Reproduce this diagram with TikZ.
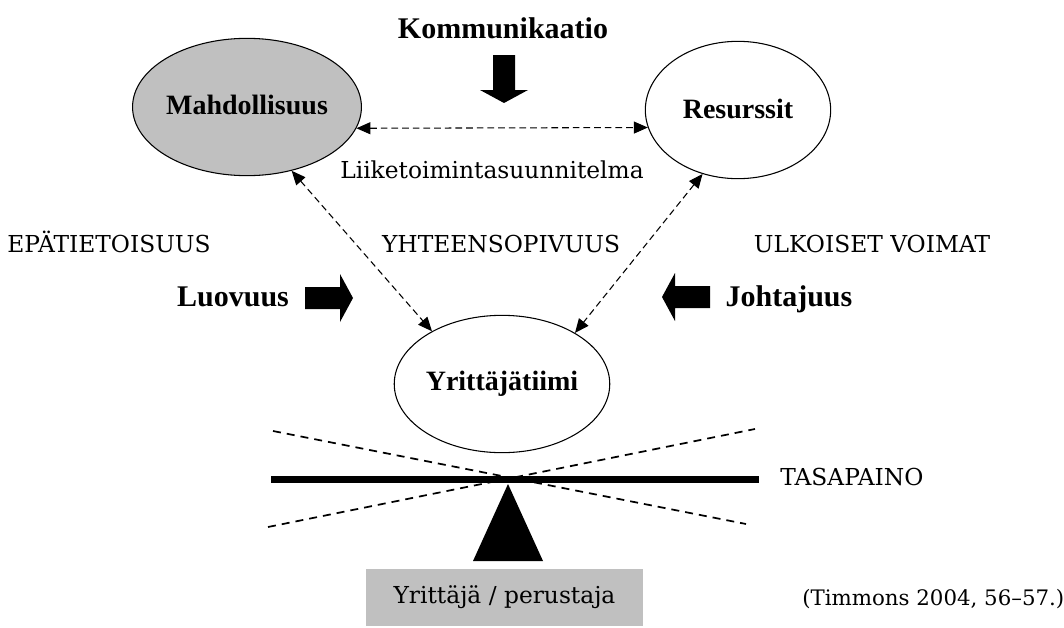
\documentclass[tikz,border=0pt]{standalone}
\usepackage{fontspec}
\setmainfont{Liberation Serif}
\newfontfamily\dv{DejaVu Serif}
\usetikzlibrary{arrows.meta,shapes.geometric}
\definecolor{silvergray}{RGB}{192,192,192}
\begin{document}
\begin{tikzpicture}[x=0.75pt,y=-0.75pt,
  ell/.style={draw, ellipse, line width=0.8pt, minimum width=139pt, minimum height=103pt,
    inner sep=0pt, font=\fontsize{21}{21}\selectfont\bfseries},
  big/.style={anchor=base, inner sep=0pt, font=\fontsize{22.5}{22.5}\selectfont\bfseries},
  reg/.style={anchor=base, inner sep=0pt, font=\dv\fontsize{17.5}{17.5}\selectfont},
  dconn/.style={line width=0.8pt, dash pattern=on 5pt off 3pt,
    {Triangle[length=10.5pt,width=9pt]}-{Triangle[length=10.5pt,width=9pt]}},
  blockarrow/.style={fill=black},
  tilt/.style={line width=1.3pt, dash pattern=on 6pt off 4.5pt},
  beam/.style={line width=5.25pt}]
\useasboundingbox (0,0) rectangle (1064,628);
\fill[white] (0,0) rectangle (1064,628);

% ellipses
\node[ell, fill=silvergray] (M) at (247,107) {\raisebox{3pt}{Mahdollisuus}};
\node[ell, fill=white] (R) at (738,110) {\raisebox{2pt}{Resurssit}};
\node[ell, fill=white] (Y) at (502,384) {Yrittäjätiimi};

% dashed connectors
\draw[dconn] (M.-11) -- (R.191);
\draw[dconn] (M.-55) -- (Y.143);
\draw[dconn] (R.241) -- (Y.35);

% labels
\node[big] (komm) at (503,38) {Kommunikaatio};
\node[reg] (liike) at (492,178) {Liiketoimintasuunnitelma};
\node[reg] (epa) at (109,252) {EPÄTIETOISUUS};
\node[reg] (yht) at (501,252) {YHTEENSOPIVUUS};
\node[reg] (ulk) at (872,252) {ULKOISET VOIMAT};
\node[big] (luo) at (233,306) {Luovuus};
\node[big] (joh) at (789,306) {Johtajuus};
\node[reg, anchor=base west] (tasa) at (780,485) {TASAPAINO};
\node[reg, anchor=base west, font=\dv\fontsize{16}{16}\selectfont] (timm) at (802,605) {(Timmons 2004, 56–57.)};

% block arrows
\fill[blockarrow] (493,55) -- (515,55) -- (515,90) -- (528,90) -- (504,103) -- (480,90) -- (493,90) -- cycle;
\fill[blockarrow] (305,287) -- (340,287) -- (340,274) -- (353,298) -- (340,322) -- (340,309) -- (305,309) -- cycle;
\fill[blockarrow] (710,286) -- (675,286) -- (675,273) -- (662,297) -- (675,321) -- (675,308) -- (710,308) -- cycle;

% balance
\draw[tilt] (273,431) -- (746,524);
\draw[tilt] (268,527) -- (755,429);
\draw[beam] (271,479.5) -- (759,479.5);
\fill (508,484) -- (543,561) -- (473,561) -- cycle;

% founder box
\node[fill=silvergray, minimum width=207.75pt, minimum height=42.75pt, inner sep=0pt,
  font=\dv\fontsize{17.5}{17.5}\selectfont] (yp) at (504.5,597.5) {\raisebox{-4pt}{Yrittäjä / perustaja}};
\end{tikzpicture}
\end{document}
